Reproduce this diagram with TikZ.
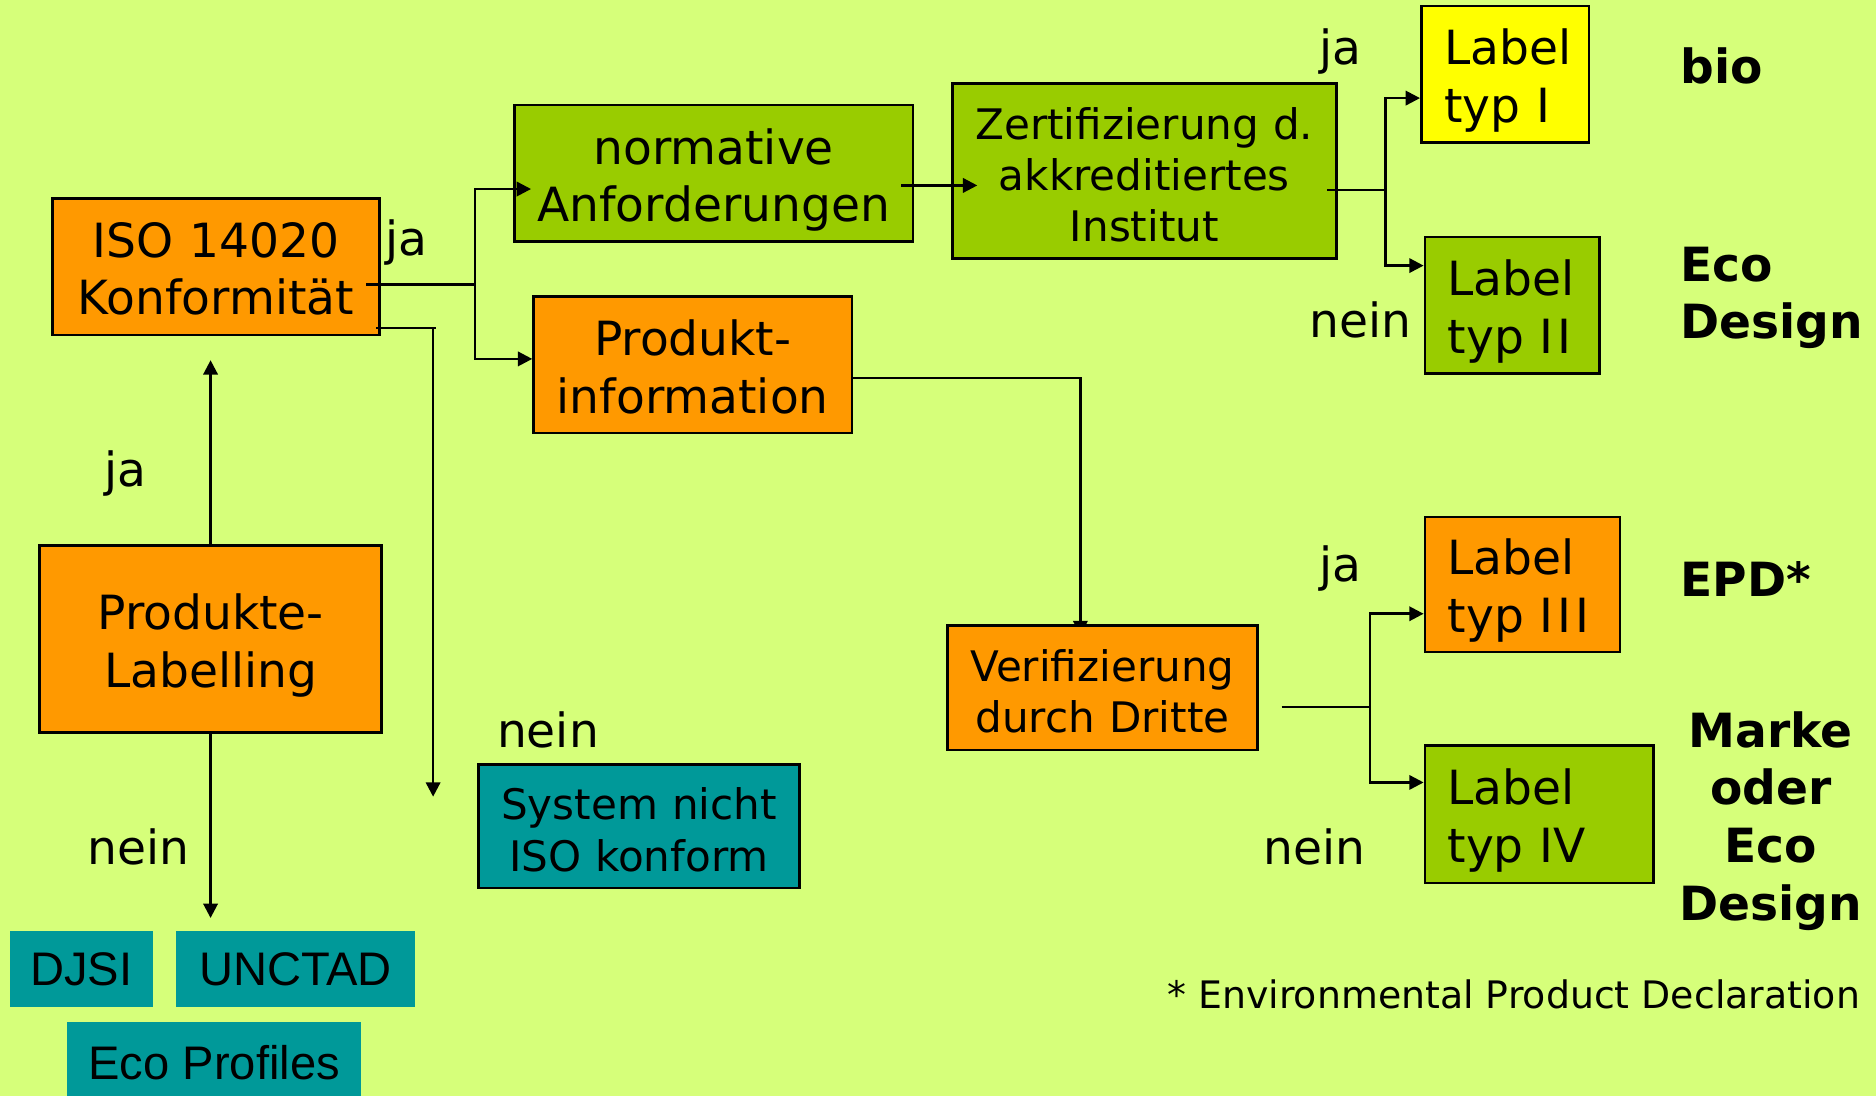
\documentclass[tikz,border=0pt]{standalone}
\usepackage{fontspec}
\setmainfont{DejaVu Sans}
\newfontfamily\arialfont{Liberation Sans}
\usetikzlibrary{%
  arrows.meta,%
  calc%
}
\pgfdeclarelayer{back}
\pgfsetlayers{back,main}
\definecolor{bgcol}{RGB}{214,255,122}
\definecolor{boxorange}{RGB}{255,153,0}
\definecolor{boxgreen}{RGB}{153,204,0}
\definecolor{boxteal}{RGB}{0,153,153}
\definecolor{boxyellow}{RGB}{255,255,0}
\newcommand{\bigtxt}{\fontsize{11.2}{13.7}\selectfont}
\newcommand{\smalltxt}{\fontsize{10}{12.2}\selectfont}
\newcommand{\foottxt}{\fontsize{9}{11}\selectfont}
\tikzset{
  bigstrut/.style={execute at begin node={\rule{0pt}{12.2pt}},
    execute at end node={\rule[-3pt]{0pt}{3pt}}},
  smallstrut/.style={execute at begin node={\rule{0pt}{11pt}},
    execute at end node={\rule[-2.8pt]{0pt}{2.8pt}}},
  box/.style={draw,line width=0.6pt,inner sep=0pt,align=center,font=\bigtxt,
    text width=#1,minimum width=#1,bigstrut},
  smallbox/.style={box=#1,font=\smalltxt,smallstrut},
  labelbox/.style={draw,line width=0.6pt,inner xsep=0.19cm,inner ysep=0pt,
    align=left,font=\bigtxt,bigstrut},
  flatbox/.style={fill=boxteal,inner sep=0pt,font=\arialfont\bigtxt},
  answer/.style={font=\bigtxt,inner sep=0pt},
  result/.style={font=\bigtxt\bfseries,inner sep=0pt},
  link/.style={line width=0.6pt},
}

\begin{document}
\begin{tikzpicture}[x=0.01cm,y=-0.01cm,>={Triangle[length=1.2mm,width=1.2mm]}]
  \begin{pgfonlayer}{back}
    \fill[bgcol] (0,0) rectangle (1568,916);
  \end{pgfonlayer}
  \useasboundingbox (0,0) rectangle (1568,916);

  % left column
  \node[box=2.73cm,fill=boxorange,minimum height=1.14cm] (iso)
    at (180.5,223) {ISO 14020\\Konformität};
  \node[box=2.86cm,fill=boxorange,minimum height=1.56cm] (prodlab)
    at (176,534) {Produkte-\\Labelling};
  \node[flatbox,minimum width=1.20cm,minimum height=0.64cm] (djsi) at (68,810) {DJSI};
  \node[flatbox,minimum width=2.00cm,minimum height=0.64cm] (unctad) at (247,810) {UNCTAD};
  \node[flatbox,minimum width=2.46cm,minimum height=0.68cm] (ecoprof) at (179,888) {Eco Profiles};
  \node[answer] (jaiso) at (105,396) {ja};
  \node[answer] (neinprod) at (116,708) {nein};

  % middle
  \node[answer] (jamid) at (340,203) {ja};
  \node[box=3.33cm,fill=boxgreen,minimum height=1.14cm] (norm)
    at (596.5,145) {normative\\Anforderungen};
  \node[box=2.66cm,fill=boxorange,minimum height=1.14cm] (pinfo)
    at (579,305) {Produkt-\\information};
  \node[answer] (neinmid) at (458,610) {nein};
  \node[smallbox=2.68cm,fill=boxteal,minimum height=1.03cm] (notiso)
    at (534,690.5) {System nicht\\ISO konform};
  \node[smallbox=3.21cm,fill=boxgreen,minimum height=1.46cm] (zert)
    at (956.5,143) {Zertifizierung d.\\akkreditiertes\\Institut};
  \node[smallbox=2.59cm,fill=boxorange,minimum height=1.04cm] (verif)
    at (921.5,575) {Verifizierung\\durch Dritte};

  % labels
  \node[labelbox,fill=boxyellow,text width=1.02cm,minimum height=1.14cm] (lab1)
    at (1258,62) {Label\\typ I};
  \node[labelbox,fill=boxgreen,text width=1.08cm,minimum height=1.14cm] (lab2)
    at (1264,255) {Label\\typ I\kern1pt I};
  \node[labelbox,fill=boxorange,text width=1.25cm,minimum height=1.13cm] (lab3)
    at (1272.5,488.5) {Label\\typ I\kern1pt I\kern1pt I};
  \node[labelbox,fill=boxgreen,text width=1.53cm,minimum height=1.15cm] (lab4)
    at (1286.5,680.5) {Label\\typ IV};
  \node[answer] (jatop) at (1120,43) {ja};
  \node[answer] (neintop) at (1137,267) {nein};
  \node[answer] (jabot) at (1120,475) {ja};
  \node[answer] (neinbot) at (1099,708) {nein};

  \node[result,anchor=west] (bio) at (1404,55) {bio};
  \node[result,anchor=west,align=left] (ecodes) at (1404,249) {Eco\\Design};
  \node[result,anchor=west] (epd) at (1404,484) {EPD*};
  \node[result,align=center] (marke) at (1480,686) {Marke\\oder\\Eco\\Design};
  \node[font=\foottxt,inner sep=0pt,anchor=west] (foot) at (975,831)
    {* Environmental Product Declaration};

  % connectors
  \coordinate (isoja) at (397,238);
  \coordinate (isonein) at (362,274);
  \coordinate (zertsplit) at (1158,159);
  \coordinate (verifsplit) at (1145,591);

  \draw[link,->] (prodlab.north) -- ($(prodlab.north |- iso.south)+(0,20)$);
  \draw[link,->] (prodlab.south) -- ($(prodlab.south |- unctad.north)+(0,-10)$);

  \draw[link] ([shift={(-12,15)}]iso.east) -- (isoja);
  \draw[link,->] (isoja) |- ([shift={(15,13)}]norm.west);
  \draw[link,->] (isoja) |- ([shift={(0,-5)}]pinfo.west);
  \draw[link] ([shift={(-4,51)}]iso.east) -- ([shift={(2,0)}]isonein);
  \draw[link,->] (isonein) -- ($(isonein |- notiso.north)+(0,28)$);

  \draw[link,->] ([shift={(-11,10)}]norm.east) -- ([shift={(22,12)}]zert.west);
  \draw[link] ([shift={(-9,16)}]zert.east) -- (zertsplit);
  \draw[link,->] (zertsplit) |- ([shift={(0,20)}]lab1.west);
  \draw[link,->] (zertsplit) |- ([shift={(0,-33)}]lab2.west);

  \begin{pgfonlayer}{back}
    \draw[link,->] ([shift={(0,11)}]pinfo.east) -| ([shift={(-18.5,9)}]verif.north);
  \end{pgfonlayer}
  \draw[link] ([shift={(19,16)}]verif.east) -- (verifsplit);
  \draw[link,->] (verifsplit) |- ([shift={(0,24.5)}]lab3.west);
  \draw[link,->] (verifsplit) |- ([shift={(0,-26.5)}]lab4.west);
\end{tikzpicture}
\end{document}
